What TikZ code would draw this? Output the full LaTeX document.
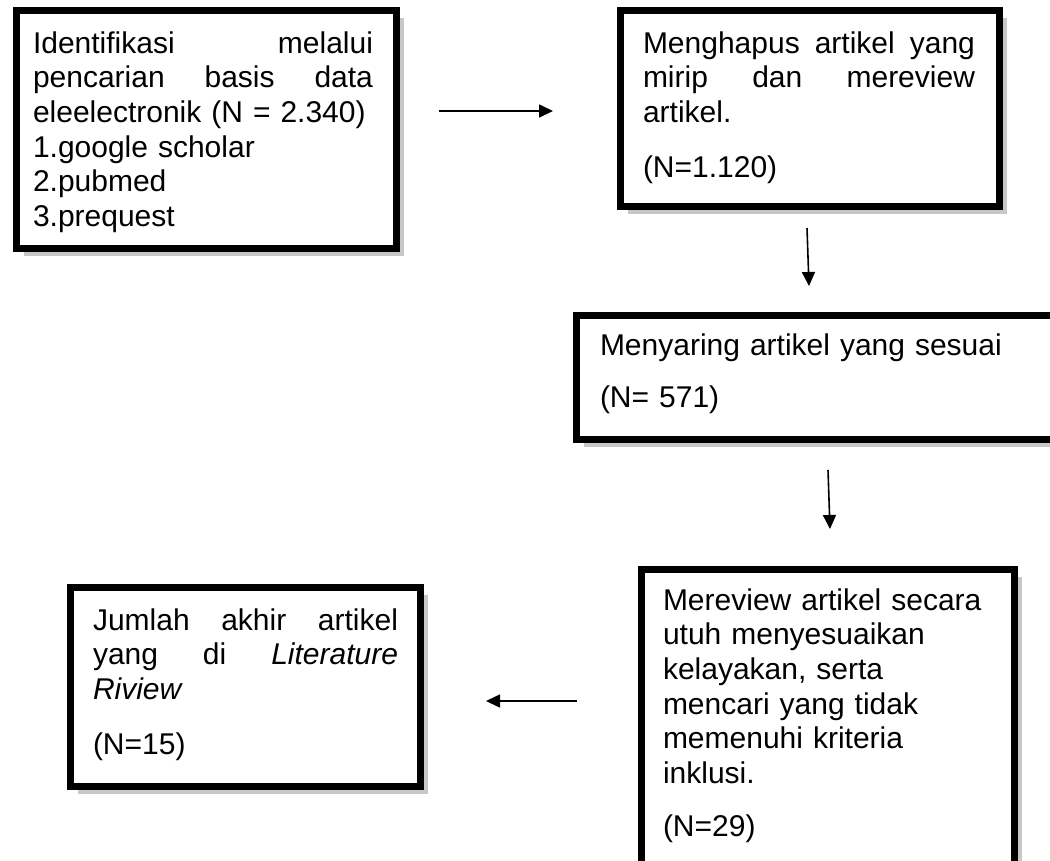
\documentclass[tikz,border=0pt]{standalone}
\usepackage{fontspec}
\setmainfont{Liberation Sans}
\usetikzlibrary{arrows.meta,shadows}
\newcommand{\jline}[2]{\leavevmode\hbox to #1{#2}}
\begin{document}
\begin{tikzpicture}[x=1pt,y=-1pt,
  box/.style={draw=black, line width=7pt, fill=white, inner sep=0pt, outer sep=0pt,
    drop shadow={shadow xshift=7.5pt, shadow yshift=-7.5pt, fill=black!22, opacity=1}},
  txt/.style={anchor=base west, inner sep=0pt, outer sep=0pt, align=left,
    font=\fontsize{30}{34.7}\selectfont},
  flow/.style={line width=1.6pt, -{Triangle[length=14pt,width=13pt]}}]
\useasboundingbox (0,0) rectangle (1050,860);
\fill[white] (0,0) rectangle (1050,860);
\clip (0,0) rectangle (1050,860);

% boxes (outer edges)
\node[box, minimum width=380pt, minimum height=238pt] (b1) at (206.5,129.5) {};
\node[box, minimum width=379pt, minimum height=196pt] (b2) at (810,108.5) {};
\node[box, minimum width=500pt, minimum height=124pt] (b3) at (826.5,377.5) {};
\node[box, minimum width=373pt, minimum height=307pt] (b4) at (828,723) {};
\node[box, minimum width=350pt, minimum height=199pt] (b5) at (245.5,687) {};

% texts
\node[txt, text width=345pt] (t1) at (33,53) {%
  \jline{340pt}{Identifikasi\hfill melalui}\\
  \jline{340pt}{pencarian\hfill basis\hfill data}\\
  eleelectronik (N = 2.340)\\
  1.google scholar\\
  2.pubmed\\
  3.prequest};
\node[txt, text width=340pt] (t2) at (643,53) {%
  \jline{332pt}{Menghapus\hfill artikel\hfill yang}\\
  \jline{332pt}{mirip\hfill dan\hfill mereview}\\
  artikel.\\[20pt]
  (N=1.120)};
\node[txt, text width=420pt] (t3) at (600,355) {%
  Menyaring artikel yang sesuai\\[18pt]
  (N= 571)};
\node[txt, text width=340pt] (t4) at (663,610) {%
  Mereview artikel secara\\
  utuh menyesuaikan\\
  kelayakan, serta\\
  mencari yang tidak\\
  memenuhi kriteria\\
  inklusi.\\[18pt]
  (N=29)};
\node[txt, text width=310pt] (t5) at (93,630) {%
  \jline{305pt}{Jumlah\hfill akhir\hfill artikel}\\
  \jline{305pt}{yang\hfill di\hfill \textit{Literature}}\\
  \textit{Riview}\\[20pt]
  (N=15)};

% arrows
\coordinate (a1s) at (439,111);
\coordinate (a1e) at (553,111);
\coordinate (a2s) at (807,228);
\coordinate (a2e) at (809,286);
\coordinate (a3s) at (828,470);
\coordinate (a3e) at (830,529);
\coordinate (a4s) at (577,701);
\coordinate (a4e) at (486,701);
\draw[flow] (a1s) -- (a1e);
\draw[flow] (a2s) -- (a2e);
\draw[flow] (a3s) -- (a3e);
\draw[flow] (a4s) -- (a4e);
\end{tikzpicture}
\end{document}
